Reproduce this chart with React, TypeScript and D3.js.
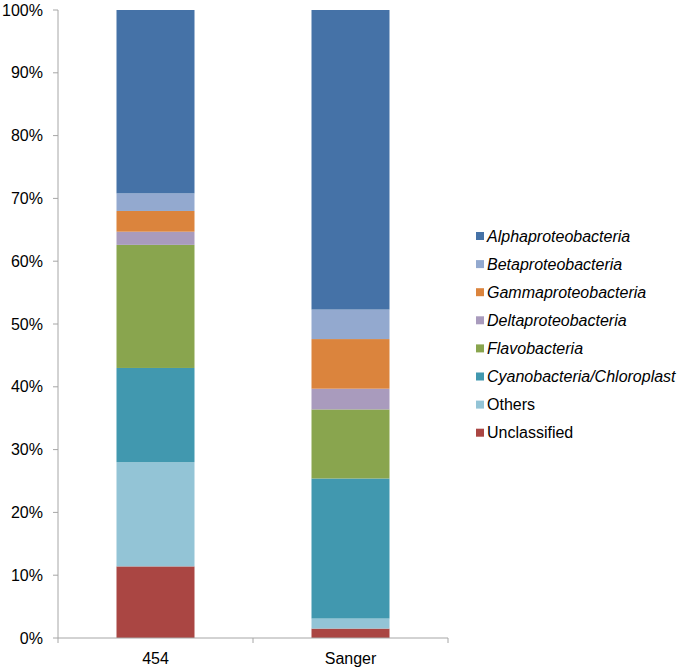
import React from "react";
import * as d3 from "d3";

const categories = ["454", "Sanger"];
const seriesNames = [
  "Unclassified",
  "Others",
  "Cyanobacteria/Chloroplast",
  "Flavobacteria",
  "Deltaproteobacteria",
  "Gammaproteobacteria",
  "Betaproteobacteria",
  "Alphaproteobacteria",
];
const italicSeries = [false, false, true, true, true, true, true, true];
const colors = ["#AA4643", "#93C4D6", "#4198AF", "#89A54E", "#A99BBD", "#DB843D", "#93A9CF", "#4572A7"];
const values454 = [11.4, 16.6, 15.0, 19.6, 2.1, 3.3, 2.8, 29.2];
const valuesSanger = [1.5, 1.6, 22.3, 11.0, 3.3, 7.9, 4.7, 47.7];
const yTicks = [0, 10, 20, 30, 40, 50, 60, 70, 80, 90, 100];

export default function App() {
  const W = 687, H = 671;
  const x0 = 58, x1 = 448, yTop = 10, yBot = 638;
  const x = d3.scaleBand<string>().domain(categories).range([x0, x1]).paddingInner(0.6).paddingOuter(0.3);
  const y = d3.scaleLinear().domain([0, 100]).range([yBot, yTop]);
  const data = [values454, valuesSanger];
  const axisColor = "#A6A6A6";
  const font = "Arial, 'Liberation Sans', sans-serif";

  const legendOrder = seriesNames.map((_, i) => i).reverse();

  return (
    <svg width={W} height={H} style={{ position: "absolute", left: 0, top: 0 }} fontFamily={font}>
      <rect width={W} height={H} fill="#fff" />
      {categories.map((c, ci) => {
        let cum = 0;
        return data[ci].map((v, si) => {
          const start = cum;
          cum += v;
          return (
            <rect key={c + si} x={x(c)} width={x.bandwidth()} y={y(cum)} height={y(start) - y(cum)} fill={colors[si]} />
          );
        });
      })}
      <line x1={x0} x2={x0} y1={yTop} y2={yBot} stroke={axisColor} strokeWidth={1} />
      {yTicks.map((t) => (
        <g key={t}>
          <line x1={x0 - 5} x2={x0} y1={y(t)} y2={y(t)} stroke={axisColor} />
          <text x={x0 - 15} y={y(t)} dy="0.35em" textAnchor="end" fontSize={16} fill="#000">
            {t}%
          </text>
        </g>
      ))}
      <line x1={x0} x2={x1} y1={yBot} y2={yBot} stroke={axisColor} />
      {[x0, (x0 + x1) / 2, x1].map((t, i) => (
        <line key={i} x1={t} x2={t} y1={yBot} y2={yBot + 5} stroke={axisColor} />
      ))}
      {categories.map((c) => (
        <text key={c} x={(x(c) as number) + x.bandwidth() / 2} y={yBot + 26} textAnchor="middle" fontSize={16} fill="#000">
          {c}
        </text>
      ))}
      {legendOrder.map((si, k) => {
        const cy = 236 + k * 28.1;
        return (
          <g key={si}>
            <rect x={476} y={cy - 4} width={8} height={8} fill={colors[si]} />
            <text x={487} y={cy} dy="0.35em" fontSize={16} fontStyle={italicSeries[si] ? "italic" : "normal"} fill="#000">
              {seriesNames[si]}
            </text>
          </g>
        );
      })}
    </svg>
  );
}
